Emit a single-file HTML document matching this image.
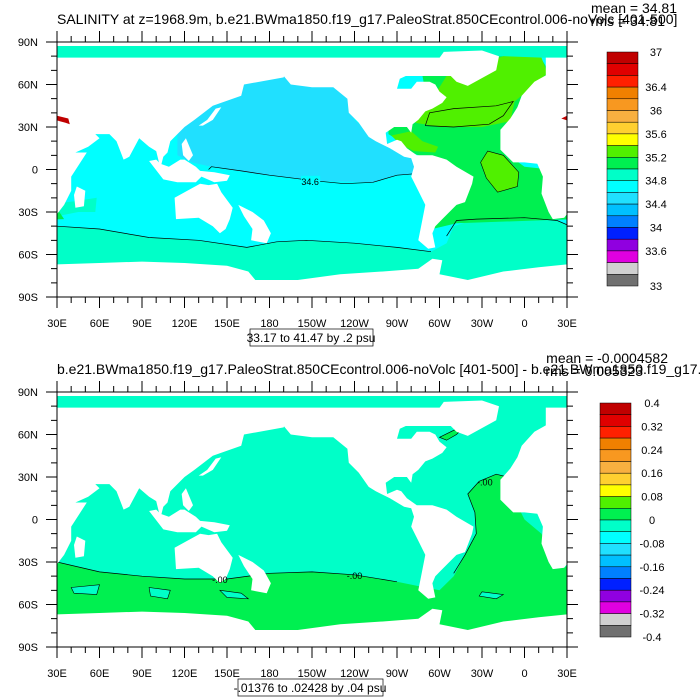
<!DOCTYPE html>
<html><head><meta charset="utf-8">
<style>
html,body{margin:0;padding:0;background:#fff;}
svg{display:block;font-family:"Liberation Sans",sans-serif;}
</style></head>
<body>
<svg id="chart" width="700" height="700" viewBox="0 0 700 700" xmlns="http://www.w3.org/2000/svg">
<defs>
<clipPath id="clipTop"><rect x="57" y="42" width="510" height="255"/></clipPath>
<clipPath id="clipBot"><rect x="57" y="392" width="510" height="255"/></clipPath>
</defs>
<g id="topMap" clip-path="url(#clipTop)"></g>
<g id="botMap" clip-path="url(#clipBot)"></g>
<g id="axes"></g>

<text x="57" y="24" font-size="14">SALINITY at z=1968.9m, b.e21.BWma1850.f19_g17.PaleoStrat.850CEcontrol.006-noVolc [401-500]</text>
<text x="677" y="13" font-size="14" text-anchor="end">mean = 34.81</text>
<text x="665" y="26" font-size="14" text-anchor="end">rms = 34.81</text>
<rect x="250" y="329" width="123" height="17" fill="none" stroke="#000" stroke-width="0.7"/>
<text x="311" y="342" font-size="12" text-anchor="middle">33.17 to 41.47 by .2 psu</text>

<text x="57" y="374" font-size="14">b.e21.BWma1850.f19_g17.PaleoStrat.850CEcontrol.006-noVolc [401-500] - b.e21.BWma1850.f19_g17.</text>
<text x="668" y="363" font-size="14" text-anchor="end">mean = -0.0004582</text>
<text x="643" y="376" font-size="14" text-anchor="end">rms = 0.005323</text>
<rect x="238" y="679" width="145" height="17" fill="none" stroke="#000" stroke-width="0.7"/>
<text x="310" y="692" font-size="12" text-anchor="middle">-.01376 to .02428 by .04 psu</text>
</svg>
<script>
const NS='http://www.w3.org/2000/svg';
const colors=['#c00000','#e00000','#ff2000','#f08000','#f89820','#f8b040','#ffd030','#ffff00','#50f000','#00f050','#00ffc8','#00ffff','#20e0ff','#00c0ff','#0080ff','#0020ff','#9000e0','#e000e0','#d0d0d0','#707070'];
const topBarLabels=['37','36.4','36','35.6','35.2','34.8','34.4','34','33.6','33'];
const topBarLabelIdx=[0,3,5,7,9,11,13,15,17,20];
const botBarLabels=['0.4','0.32','0.24','0.16','0.08','0','-0.08','-0.16','-0.24','-0.32','-0.4'];
const botBarLabelIdx=[0,2,4,6,8,10,12,14,16,18,20];
const lonTicks=[30,60,90,120,150,180,210,240,270,300,330,360,390];
const lonLabels=['30E','60E','90E','120E','150E','180','150W','120W','90W','60W','30W','0','30E'];
const latTicks=[90,60,30,0,-30,-60,-90];
const latLabels=['90N','60N','30N','0','30S','60S','90S'];

// geography (lon east 30..390, lat)
const landAfEu=[[350,36],[343,28],[343,21],[343,14],[352,5],[360,5],[369,4],[373,-5],[372,-17],[377,-30],[380,-35],[388,-34],[395,-25],[400,-15],[400,-5],[411,12],[403,12],[412,16],[420,22],[417,25],[427,25],[432,20],[437,7],[441,9],[448,22],[455,16],[460,13],[463,1],[465,9],[468,12],[470,20],[480,30],[487,35],[500,45],[520,52],[522,60],[550,65],[552,72],[500,76],[460,78],[420,75],[385,72],[367,62],[358,52],[355,44],[350,36]];
const landMadagascar=[[404,-12],[410,-15],[409,-26],[403,-27],[402,-18]];
const landAmericas=[[190,66],[195,60],[210,58],[225,58],[235,50],[236,40],[243,33],[250,23],[255,20],[265,15],[275,9],[280,8],[282,2],[280,-5],[285,-15],[290,-25],[287,-40],[285,-50],[292,-56],[297,-55],[295,-45],[297,-40],[302,-35],[312,-25],[318,-23],[323,-10],[324,-5],[312,2],[305,7],[295,10],[284,10],[277,15],[273,20],[270,21],[263,18],[262,26],[268,30],[277,30],[280,26],[281,32],[285,35],[290,41],[295,43],[302,47],[305,51],[300,55],[297,60],[293,62],[284,62],[280,57],[270,57],[272,64],[285,70],[280,76],[260,78],[230,74],[200,73]];
const landGreenland=[[298,76],[303,83],[330,84],[342,80],[340,70],[320,59],[312,62],[306,68],[300,72]];
const landAustralia=[[113,-20],[114,-35],[130,-34],[140,-40],[145,-45],[149,-42],[152,-35],[154,-27],[146,-16],[143,-10],[137,-11],[131,-10],[122,-15]];
const landIndonesia=[[95,6],[105,-7],[115,-9],[128,-9],[132,-5],[141,-9],[150,-8],[152,-4],[141,-2],[131,-1],[128,2],[120,7],[117,7],[109,2],[103,4],[100,7]];
const landPhilJapan=[[118,18],[121,22],[126,10],[123,6],[119,10]];
const landJapan=[[130,31],[136,35],[142,43],[146,44],[140,35],[133,31]];
const landNZ=[[158,-25],[168,-30],[176,-36],[181,-45],[178,-52],[167,-50],[168,-42],[162,-33]];
const landAntarctica=[[30,-67],[60,-66],[90,-65],[120,-66],[150,-68],[165,-72],[170,-78],[200,-78],[230,-74],[260,-72],[285,-70],[295,-63],[302,-64],[300,-74],[320,-78],[345,-72],[370,-69],[390,-67],[390,-90],[30,-90]];
const arcticWhite=[[30,66],[330,66],[330,79],[30,79]];
const arcticWhite2=[[375,66],[390,66],[390,79],[375,79]];

// top panel field regions
const topNPac=[[139,2],[170,-3],[212,-8],[253,-9],[270,-4],[282,-3],[282,12],[255,22],[240,35],[235,55],[210,64],[190,70],[160,64],[140,55],[115,40],[115,10],[125,5]];
const topNPacContour=[[137,0],[139,2],[160,-1],[180,-4],[212,-8],[233,-10],[253,-9],[270,-4],[282,-3]];
const topArctic=[[30,79],[390,79],[390,88],[30,88]];
const topSouth=[[30,-40],[60,-42],[95,-48],[130,-50],[164,-55],[185,-51],[206,-50],[240,-52],[270,-55],[294,-58],[305,-52],[310,-40],[326,-35],[360,-34],[383,-36],[390,-39],[390,-90],[30,-90]];
const topSouthContour=[[30,-40],[60,-42],[95,-48],[130,-50],[164,-55],[185,-51],[206,-50],[240,-52],[270,-55],[294,-58]];
const topSouthContour2=[[305,-47],[312,-36],[326,-35],[360,-34],[383,-36],[390,-39]];
const topAgulhas=[[30,-33],[45,-30],[57,-30],[58,-20],[45,-22],[30,-24]];
const topAtl=[[295,-42],[305,-30],[312,-15],[320,-5],[305,5],[288,9],[280,12],[272,20],[264,25],[264,32],[280,42],[290,55],[288,66],[300,78],[345,80],[372,78],[378,68],[365,55],[357,40],[356,28],[346,12],[360,2],[378,0],[385,-20],[395,-35],[312,-38]];
const topLimeN=[[283,33],[290,42],[300,58],[305,66],[320,72],[345,80],[372,79],[376,68],[365,58],[353,48],[350,34],[330,30],[300,30]];
const topLimeEq=[[334,13],[345,10],[356,-2],[355,-12],[341,-16],[333,-6],[329,5]];
const topLimeCarib=[[266,24],[280,27],[288,20],[299,16],[297,12],[282,13],[272,18]];
const topRedMed=[[386,36],[392,34],[396,33],[399,32],[398,36],[390,38]];

// bottom panel field regions
const botSouth=[[30,-30],[60,-37],[90,-40],[120,-42],[150,-42],[180,-38],[210,-37],[240,-39],[270,-44],[290,-48],[300,-50],[310,-40],[318,-25],[326,-10],[325,5],[320,18],[328,27],[340,32],[348,30],[355,10],[360,0],[372,-10],[378,-25],[380,-35],[390,-33],[390,-90],[30,-90]];
const botSouthContour=[[30,-30],[60,-37],[90,-40],[120,-42],[150,-42],[180,-38],[210,-37],[240,-39],[270,-44]];
const botAtlContour=[[310,-38],[318,-25],[326,-10],[325,5],[320,18],[328,27],[340,32],[348,30]];
const botLabPocket=[[300,58],[310,63],[318,66],[312,60],[305,56]];
const botPockets=[[[40,-48],[60,-46],[58,-53],[42,-52]],[[95,-48],[110,-50],[108,-56],[96,-54]],[[145,-50],[160,-52],[165,-56],[150,-55]],[[330,-51],[345,-53],[340,-56],[328,-54]]];

function mkPanel(x0,x1,y0,y1){return {x0,x1,y0,y1};}
const P1=mkPanel(57,567,42,297), P2=mkPanel(57,567,392,647);
function px(p,lon){return p.x0+(lon-30)*(p.x1-p.x0)/360;}
function py(p,lat){return p.y0+(90-lat)*(p.y1-p.y0)/180;}
function ptsStr(p,pts,off){return pts.map(q=>px(p,q[0]+off).toFixed(1)+','+py(p,q[1]).toFixed(1)).join(' ');}
function poly(g,p,pts,fill,stroke,name){
  [0,-360,360].forEach(off=>{
    const e=document.createElementNS(NS,'polygon');
    e.setAttribute('points',ptsStr(p,pts,off));
    e.setAttribute('fill',fill);
    e.setAttribute('stroke',stroke||'none');
    e.setAttribute('stroke-width','0.6');
    
    
    g.appendChild(e);
  });
}
function line(g,p,pts,name){
  [0,-360].forEach(off=>{
    const e=document.createElementNS(NS,'polyline');
    e.setAttribute('points',ptsStr(p,pts,off));
    e.setAttribute('fill','none');e.setAttribute('stroke','#000');e.setAttribute('stroke-width','0.7');
    
    
    g.appendChild(e);
  });
}
function rect(g,x,y,w,h,fill,name){
  const e=document.createElementNS(NS,'rect');
  e.setAttribute('x',x);e.setAttribute('y',y);e.setAttribute('width',w);e.setAttribute('height',h);e.setAttribute('fill',fill);
  
  
  g.appendChild(e);return e;
}
function text(g,x,y,s,size,anchor,name){
  const e=document.createElementNS(NS,'text');
  e.setAttribute('x',x);e.setAttribute('y',y);e.setAttribute('font-size',size);e.setAttribute('text-anchor',anchor);
  e.textContent=s;
  
  
  g.appendChild(e);return e;
}
function land(g,p){
  poly(g,p,arcticWhite,'#fff',null,'arctic-land');
  poly(g,p,arcticWhite2,'#fff',null,'arctic-land');
  [[landAfEu,'africa-eurasia'],[landMadagascar,'madagascar'],[landAmericas,'americas'],[landGreenland,'greenland'],[landAustralia,'australia'],[landIndonesia,'indonesia'],[landPhilJapan,'philippines'],[landJapan,'japan'],[landNZ,'new-zealand-plateau'],[landAntarctica,'antarctica']].forEach(a=>poly(g,p,a[0],'#fff',null,a[1]));
  rect(g,p.x0,p.y0,p.x1-p.x0,4,'#fff','north-pole-edge');
}
// top panel
const gT=document.getElementById('topMap');
rect(gT,P1.x0,P1.y0,P1.x1-P1.x0,P1.y1-P1.y0,colors[11],'top-ocean-base');
poly(gT,P1,topArctic,colors[10],null,'top-arctic-ocean');
poly(gT,P1,topNPac,colors[12],null,'top-north-pacific');
poly(gT,P1,topSouth,colors[10],null,'top-southern-ocean');
poly(gT,P1,topAgulhas,colors[10],null,'top-agulhas-region');
poly(gT,P1,topAtl,colors[9],null,'top-atlantic');
poly(gT,P1,topLimeN,colors[8],null,'top-north-atlantic-high');
poly(gT,P1,topLimeEq,colors[8],'#000','top-equatorial-atlantic-high');
poly(gT,P1,topLimeCarib,colors[8],null,'top-caribbean');
line(gT,P1,topNPacContour,'top-contour-34-6');
line(gT,P1,topSouthContour,'top-contour-southern');
line(gT,P1,topSouthContour2,'top-contour-south-atlantic');
line(gT,P1,[[290,31],[293,40],[310,43],[340,45],[352,48],[345,38],[335,32],[310,30],[290,31]],'top-contour-subtropical');
land(gT,P1);
poly(gT,P1,topRedMed,colors[0],null,'top-mediterranean');
rect(gT,px(P1,208)-8,py(P1,-8)-5,19,10,colors[11],'contour-label-bg');
text(gT,px(P1,208)+1,py(P1,-8)+4,'34.6',9,'middle','contour-label-34-6');
// bottom panel
const gB=document.getElementById('botMap');
rect(gB,P2.x0,P2.y0,P2.x1-P2.x0,P2.y1-P2.y0,colors[10],'bottom-ocean-base');
poly(gB,P2,botSouth,colors[9],null,'bottom-southern-atlantic-positive');
botPockets.forEach(pk=>poly(gB,P2,pk,colors[10],'#000','bottom-negative-pocket'));
poly(gB,P2,botLabPocket,colors[9],'#000','bottom-labrador-positive');
line(gB,P2,botSouthContour,'bottom-contour-zero');
line(gB,P2,botAtlContour,'bottom-contour-atlantic');
land(gB,P2);
text(gB,px(P2,145),py(P2,-42)+4,'-.00',9,'middle','contour-label-zero');
text(gB,px(P2,240),py(P2,-39)+4,'-.00',9,'middle','contour-label-zero');
text(gB,px(P2,332),py(P2,27)+4,'-.00',9,'middle','contour-label-zero');

// axes
const gA=document.getElementById('axes');
function axes(p,suffix){
  const f=document.createElementNS(NS,'rect');
  f.setAttribute('x',p.x0);f.setAttribute('y',p.y0);f.setAttribute('width',p.x1-p.x0);f.setAttribute('height',p.y1-p.y0);
  f.setAttribute('fill','none');f.setAttribute('stroke','#000');f.setAttribute('stroke-width','1');
  
  
  gA.appendChild(f);
  let d='';
  for(let lon=30;lon<=390;lon+=10){
    const x=px(p,lon),len=(lon%30===0)?11:6;
    d+=`M${x},${p.y1}v${len}M${x},${p.y0}v${-len}`;
  }
  for(let lat=-90;lat<=90;lat+=10){
    const y=py(p,lat),len=(lat%30===0)?11:6;
    d+=`M${p.x0},${y}h${-len}M${p.x1},${y}h${len}`;
  }
  const t=document.createElementNS(NS,'path');
  t.setAttribute('d',d);t.setAttribute('stroke','#000');t.setAttribute('stroke-width','1');
  
  
  gA.appendChild(t);
  lonTicks.forEach((lon,i)=>text(gA,px(p,lon),p.y1+30,lonLabels[i],11,'middle','x-tick-label'));
  latTicks.forEach((lat,i)=>text(gA,38,py(p,lat)+4,latLabels[i],11,'end','y-tick-label'));
}
axes(P1,'top');axes(P2,'bottom');
function colorbar(x,y0,y1,labels,idx,lx,suffix){
  const h=(y1-y0)/colors.length;
  colors.forEach((c,i)=>{
    const r=rect(gA,x,y0+i*h,31,h,c,'colorbar-box-'+suffix);
    r.setAttribute('stroke','#000');r.setAttribute('stroke-width','0.5');
  });
  labels.forEach((s,i)=>text(gA,lx,y0+idx[i]*h+4,s,11,'middle','colorbar-label-'+suffix));
}
colorbar(607,52,286,topBarLabels,topBarLabelIdx,656,'top');
colorbar(600,403,637,botBarLabels,botBarLabelIdx,652,'bottom');
</script>
</body></html>
